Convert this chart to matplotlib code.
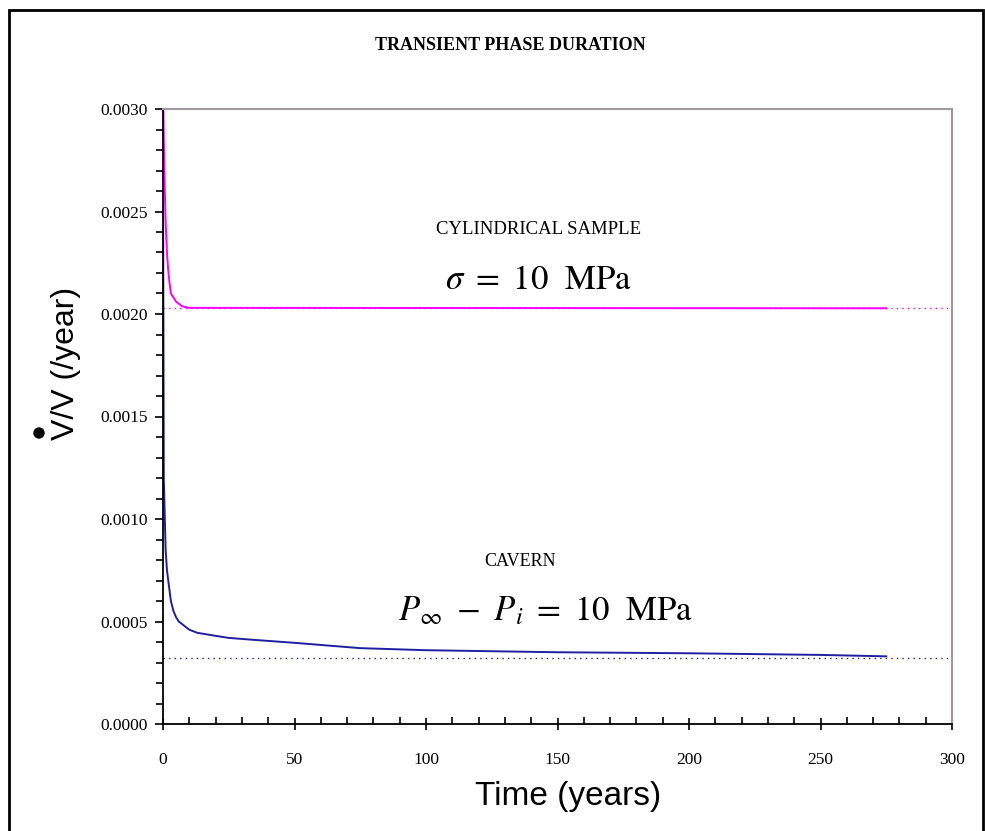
import matplotlib
matplotlib.use("Agg")
import matplotlib.pyplot as plt
from matplotlib.ticker import MultipleLocator, FormatStrFormatter
from matplotlib.patches import Rectangle, Ellipse

plt.rcParams['mathtext.fontset'] = 'stix'

# Data
t_sample = [0, 0.5, 1, 1.5, 2, 2.5, 3, 4, 5, 6, 7, 8, 10, 12, 15, 275]
rate_sample = [0.0031, 0.0027, 0.00245, 0.0023, 0.00221, 0.00215, 0.0021, 0.00208,
               0.00206, 0.00205, 0.00204, 0.002035, 0.00203, 0.00203, 0.00203, 0.002028]
t_cavern = [0, 0.3, 0.8, 1, 1.5, 2, 3, 4, 5, 6, 8, 10, 13, 20, 25, 35, 50, 75,
            100, 150, 200, 250, 275]
rate_cavern = [0.0027, 0.0012, 0.00095, 0.00085, 0.00075, 0.0007, 0.0006, 0.00055,
               0.00052, 0.0005, 0.00048, 0.00046, 0.000445, 0.00043, 0.00042, 0.00041,
               0.000396, 0.00037, 0.00036, 0.00035, 0.000345, 0.000337, 0.00033]
asym_t = [0, 300]
asym_sample = [0.002028, 0.002028]
asym_cavern = [0.00032, 0.00032]

MAG = '#ff00ff'
BLUE = '#1f1f9f'

fig = plt.figure(figsize=(9.85, 8.31), dpi=100)
fig.patch.set_facecolor('white')
ax = fig.add_axes([163/985, 1-724/831, (952-163)/985, (724-109)/831])

ax.plot(asym_t, asym_sample, color=MAG, lw=1.0, ls=(0, (1, 3)))
ax.plot(asym_t, asym_cavern, color=BLUE, lw=1.0, ls=(0, (1, 3)))
ax.plot(t_sample, rate_sample, color=MAG, lw=1.4)
ax.plot(t_cavern, rate_cavern, color=BLUE, lw=1.4)

ax.set_xlim(0, 300)
ax.set_ylim(0, 0.003)
ax.xaxis.set_major_locator(MultipleLocator(50))
ax.xaxis.set_minor_locator(MultipleLocator(10))
ax.yaxis.set_major_locator(MultipleLocator(0.0005))
ax.yaxis.set_minor_locator(MultipleLocator(0.0001))
ax.yaxis.set_major_formatter(FormatStrFormatter('%.4f'))

ax.tick_params(axis='x', which='major', direction='inout', length=9, width=1.2,
               labelsize=12.5, pad=16)
ax.tick_params(axis='x', which='minor', direction='in', length=5, width=1.2)
ax.tick_params(axis='y', which='major', direction='out', length=6, width=1.2,
               labelsize=12.5, pad=5)
ax.tick_params(axis='y', which='minor', direction='out', length=5, width=1.2)
for lab in ax.get_xticklabels() + ax.get_yticklabels():
    lab.set_family('Liberation Serif')

ax.spines['left'].set_color('black')
ax.spines['bottom'].set_color('black')
ax.spines['left'].set_linewidth(1.3)
ax.spines['bottom'].set_linewidth(1.3)
ax.spines['top'].set_color('#a09aa0')
ax.spines['right'].set_color('#a09aa0')
ax.spines['top'].set_linewidth(1.5)
ax.spines['right'].set_linewidth(1.5)

# Texts
fig.text(510/985, 1-46/831, 'TRANSIENT PHASE DURATION', ha='center', va='center',
         fontsize=13, fontweight='bold', family='Liberation Serif')
fig.text(539/985, 1-230/831, 'CYLINDRICAL SAMPLE', ha='center', va='center',
         fontsize=13.5, family='Liberation Serif')
fig.text(538/985, 1-279/831, r'$\sigma\ =\ 10\ \ \mathrm{MPa}$', ha='center',
         va='center', fontsize=25)
fig.text(520/985, 1-562/831, 'CAVERN', ha='center', va='center',
         fontsize=13, family='Liberation Serif')
fig.text(546/985, 1-610/831, r'$P_{\infty}\ -\ P_{i}\ =\ 10\ \ \mathrm{MPa}$',
         ha='center', va='center', fontsize=25)

fig.text(568/985, 1-796/831, 'Time (years)', ha='center', va='center',
         fontsize=24, family='Liberation Sans')
fig.text(66/985, 1-363/831, 'V/V (/year)', ha='center', va='center', rotation=90,
         fontsize=23, family='Liberation Sans')
fig.patches.append(Ellipse((39/985, 1-433/831), 10/985, 10/831,
                           transform=fig.transFigure, color='black'))

# outer frame
fig.patches.append(Rectangle((9/985, -0.05), (983-9)/985, 1-10/831+0.05,
                             transform=fig.transFigure, fill=False,
                             edgecolor='black', lw=2))

fig.savefig('out.png', dpi=100)
